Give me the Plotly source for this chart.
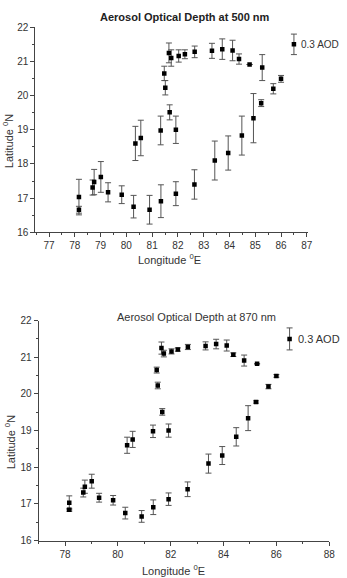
import plotly.graph_objects as go

W, H = 347, 578

lon = [78.16, 78.16, 78.69, 78.75, 79.01, 79.29, 79.82, 80.28, 80.90, 81.34,
       81.92, 82.64, 83.43, 83.95, 84.48, 84.93, 85.23, 85.70, 86.00, 85.27,
       84.78, 84.37, 84.12, 83.72, 83.32, 82.65, 82.27, 82.03, 81.74, 81.65,
       81.47, 81.51, 81.68, 81.33, 81.92, 80.35, 80.56]
lat_500 = [17.03, 16.66, 17.31, 17.47, 17.62, 17.17, 17.10, 16.75, 16.66, 16.91,
           17.13, 17.40, 18.10, 18.32, 18.83, 19.34, 19.78, 20.20, 20.49, 20.82,
           20.91, 21.07, 21.32, 21.36, 21.31, 21.28, 21.21, 21.16, 21.10, 21.25,
           20.65, 20.23, 19.51, 18.98, 19.00, 18.60, 18.76]
lat_870 = [17.03, 16.84, 17.31, 17.47, 17.62, 17.17, 17.10, 16.75, 16.66, 16.91,
           17.13, 17.40, 18.10, 18.32, 18.83, 19.34, 19.78, 20.20, 20.49, 20.82,
           20.91, 21.07, 21.32, 21.36, 21.31, 21.28, 21.21, 21.16, 21.10, 21.25,
           20.65, 20.23, 19.51, 18.98, 19.00, 18.60, 18.76]
aod_500 = [0.52, 0.10, 0.22, 0.37, 0.45, 0.28, 0.26, 0.33, 0.42, 0.48,
           0.35, 0.43, 0.57, 0.50, 0.57, 0.72, 0.10, 0.15, 0.10, 0.38,
           None, 0.15, 0.30, 0.30, 0.22, 0.17, 0.13, 0.18, 0.24, 0.29,
           0.21, 0.21, 0.22, 0.42, 0.40, 0.50, 0.52]
aod_870 = [0.19, 0.04, 0.12, 0.18, 0.19, 0.12, 0.13, 0.16, 0.16, 0.20,
           0.17, 0.20, 0.26, 0.245, 0.25, 0.34, 0.03, 0.06, 0.035, None,
           0.15, 0.05, 0.15, 0.13, 0.11, 0.07, 0.045, 0.07, 0.09, 0.165,
           0.08, 0.09, 0.09, 0.17, 0.18, 0.22, 0.22]
ref_lon = [86.5]
ref_lat = [21.5]
ref_aod = [0.3]
ref_label = "0.3 AOD"

titles = ["<b>Aerosol Optical Depth at 500 nm</b>", "Aerosol Optical Depth at 870 nm"]
xlabel = "Longitude <sup>0</sup>E"
ylabel = "Latitude <sup>0</sup>N"

FONT = "Liberation Sans, Arial, sans-serif"
MARK = dict(color="black", size=4.5, symbol="square")


def eb(arr):
    return dict(type="data", array=arr, color="#555555", thickness=1, width=3, visible=True)


fig = go.Figure()
fig.add_trace(go.Scatter(x=lon, y=lat_500, mode="markers", marker=MARK,
                         error_y=eb(aod_500), xaxis="x", yaxis="y", showlegend=False))
fig.add_trace(go.Scatter(x=ref_lon, y=ref_lat, mode="markers", marker=MARK,
                         error_y=eb(ref_aod), xaxis="x", yaxis="y", showlegend=False))
fig.add_trace(go.Scatter(x=lon, y=lat_870, mode="markers", marker=MARK,
                         error_y=eb(aod_870), xaxis="x2", yaxis="y2", showlegend=False))
fig.add_trace(go.Scatter(x=ref_lon, y=ref_lat, mode="markers", marker=MARK,
                         error_y=eb(ref_aod), xaxis="x2", yaxis="y2", showlegend=False))


def px(v):
    return v / W


def py(v):
    return 1 - v / H


axis_common = dict(showline=True, linecolor="#444444", linewidth=1, ticks="outside",
                   ticklen=4, tickcolor="#444444", showgrid=False, zeroline=False,
                   tickfont=dict(family=FONT, size=10, color="#333333"))

fig.update_layout(
    width=W, height=H, autosize=False,
    margin=dict(l=0, r=0, t=0, b=0),
    paper_bgcolor="white", plot_bgcolor="white",
    font=dict(family=FONT, color="#333333"),
    xaxis=dict(domain=[px(36), px(313)], range=[76.47, 87.03], tick0=77, dtick=1,
               minor=dict(ticks="outside", ticklen=2, dtick=0.5, tickcolor="#444444"),
               anchor="y", **axis_common),
    yaxis=dict(domain=[py(231.7), py(22.7)], range=[16, 22], dtick=1,
               minor=dict(ticks="outside", ticklen=2, dtick=0.5, tickcolor="#444444"),
               anchor="x", **axis_common),
    xaxis2=dict(domain=[px(39.3), px(335)], range=[77, 88], tick0=78, dtick=2,
                minor=dict(ticks="outside", ticklen=2, dtick=1, tickcolor="#444444"),
                anchor="y2", **axis_common),
    yaxis2=dict(domain=[py(546), py(321.7)], range=[16, 22], dtick=1,
                minor=dict(ticks="outside", ticklen=2, dtick=0.5, tickcolor="#444444"),
                anchor="x2", **axis_common),
)


def note(text, x, y, size=11, color="#333333", angle=0):
    return dict(text=text, x=px(x), y=py(y), xref="paper", yref="paper",
                xanchor="center", yanchor="middle", textangle=angle,
                showarrow=False, font=dict(family=FONT, size=size, color=color))


ann = [
    note(titles[0], 188, 12.5, 11, "#222222"),
    note(titles[1], 200, 318, 11),
    note(xlabel, 172, 259, 11),
    note(xlabel, 177, 576, 11),
    note(ylabel, 9, 139, 11, angle=-90),
    note(ylabel, 10, 446, 11, angle=-90),
]
ann.append(dict(text=ref_label, x=ref_lon[0] + 0.2, y=ref_lat[0], xref="x", yref="y",
                xanchor="left", yanchor="middle", showarrow=False,
                font=dict(family=FONT, size=10, color="#333333")))
ann.append(dict(text=ref_label, x=ref_lon[0] + 0.25, y=ref_lat[0], xref="x2", yref="y2",
                xanchor="left", yanchor="middle", showarrow=False,
                font=dict(family=FONT, size=11, color="#333333")))
fig.update_layout(annotations=ann)

fig.write_html("out.html")
